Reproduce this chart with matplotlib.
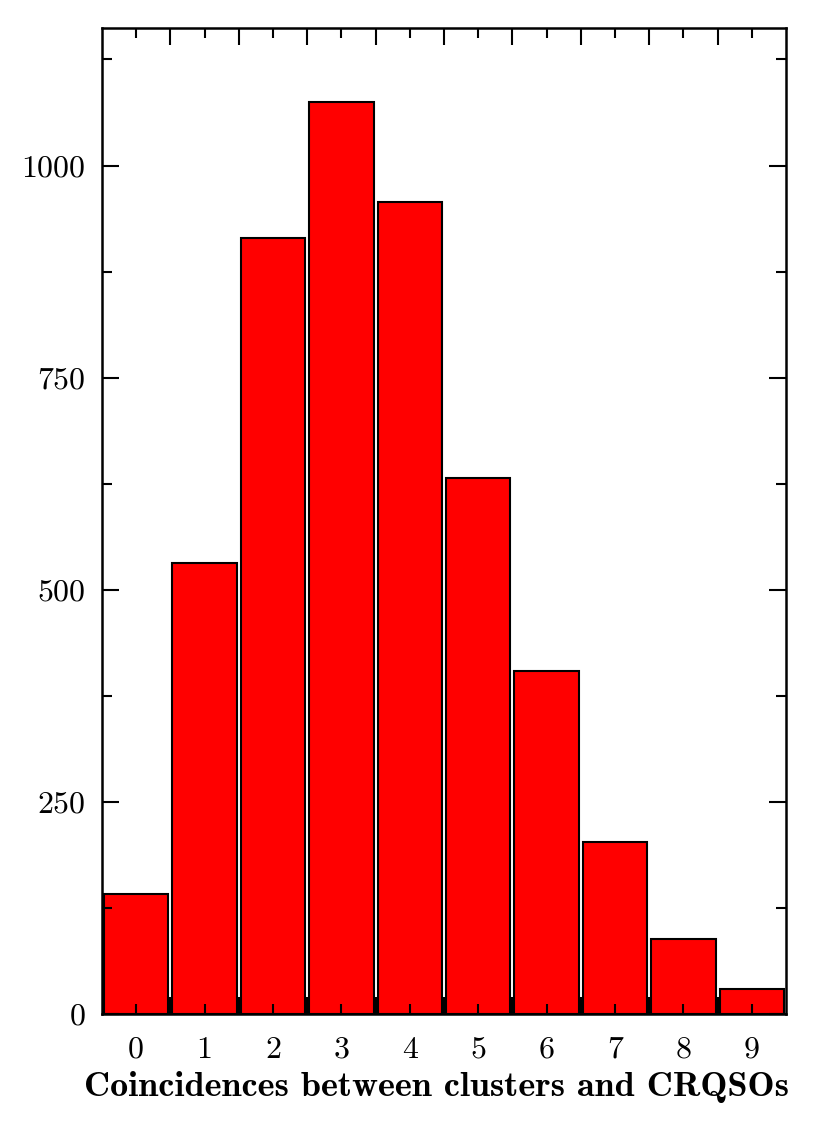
import matplotlib

matplotlib.use("Agg")
import matplotlib.pyplot as plt
import numpy as np

# coincidence counts per bin
coincidences = [0, 1, 2, 3, 4, 5, 6, 7, 8, 9]
counts = [141, 532, 914, 1075, 957, 632, 404, 203, 88, 30]

plt.rcParams["font.family"] = ["cmr10", "DejaVu Serif"]
plt.rcParams["axes.formatter.use_mathtext"] = True

fig = plt.figure(figsize=(8.17, 11.31), dpi=100)
ax = fig.add_axes([0.1248, 0.1034, 0.962 - 0.1248, 0.9752 - 0.1034])

ax.bar(coincidences, counts, width=0.94, color="#ff0000", edgecolor="black", linewidth=1.5)

ax.set_xlim(-0.5, 9.5)
ax.set_ylim(0, 1162)

# major x ticks between bars, labels at bar centres
ax.set_xticks(np.arange(0.5, 9.5, 1.0))
ax.set_xticklabels([])
ax.set_xticks(coincidences, minor=True)
ax.set_xticklabels([str(c) for c in coincidences], minor=True)
ax.set_yticks([0, 250, 500, 750, 1000])
ax.set_yticks([125, 375, 625, 875, 1125], minor=True)

ax.tick_params(which="both", direction="in", top=True, right=True, width=1.5)
ax.tick_params(which="major", length=12)
ax.tick_params(which="minor", length=7)
ax.tick_params(axis="y", which="both", labelsize=23, pad=12)
ax.tick_params(axis="x", which="both", labelsize=23, pad=16)

for spine in ax.spines.values():
    spine.set_linewidth(1.8)

ax.set_xlabel("Coincidences between clusters and CRQSOs", fontsize=26,
              family=["cmb10", "DejaVu Serif"])
ax.xaxis.set_label_coords(0.489, -0.058)

fig.savefig("out.png", dpi=100)
